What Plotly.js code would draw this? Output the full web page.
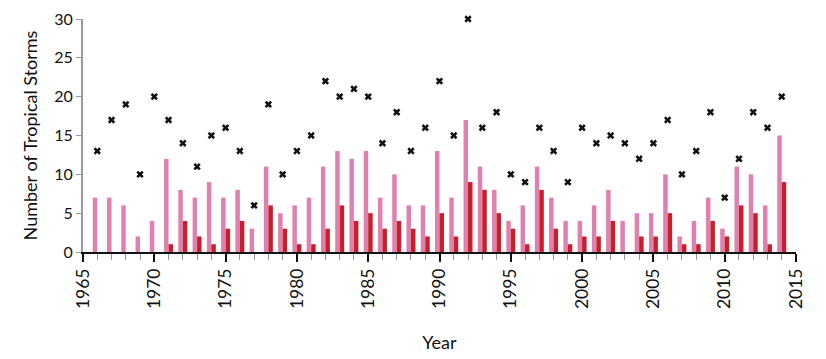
<!DOCTYPE html>
<html>
<head>
<meta charset="utf-8">
<script src="https://cdn.plot.ly/plotly-3.0.1.min.js"></script>
<style>html,body{margin:0;padding:0;background:#fff;}#chart{width:826px;height:359px;}</style>
</head>
<body>
<div id="chart"></div>
<script>
const years = [1966,1967,1968,1969,1970,1971,1972,1973,1974,1975,1976,1977,1978,1979,1980,1981,1982,1983,1984,1985,1986,1987,1988,1989,1990,1991,1992,1993,1994,1995,1996,1997,1998,1999,2000,2001,2002,2003,2004,2005,2006,2007,2008,2009,2010,2011,2012,2013,2014];
const pinkSeries = [7,7,6,2,4,12,8,7,9,7,8,3,11,5,6,7,11,13,12,13,7,10,6,6,13,7,17,11,8,4,6,11,7,4,4,6,8,4,5,5,10,2,4,7,3,11,10,6,15];
const redSeries = [0,0,0,0,0,1,4,2,1,3,4,0,6,3,1,1,3,6,4,5,3,4,3,2,5,2,9,8,5,3,1,8,3,1,2,2,4,0,2,2,5,1,1,4,2,6,5,1,9];
const totalStorms = [13,17,19,10,20,17,14,11,15,16,13,6,19,10,13,15,22,20,21,20,14,18,13,16,22,15,30,16,18,10,9,16,13,9,16,14,15,14,12,14,17,10,13,18,7,12,18,16,20];
const majorTicks = [1965,1970,1975,1980,1985,1990,1995,2000,2005,2010,2015];

const font = "Lato, 'Noto Sans', sans-serif";
const traces = [
  {type:'bar', x:years, y:pinkSeries, marker:{color:'#df80ae'}, hoverinfo:'x+y', showlegend:false},
  {type:'bar', x:years, y:redSeries, marker:{color:'#c8202a'}, hoverinfo:'x+y', showlegend:false},
  {type:'scatter', mode:'markers', x:years, y:totalStorms, cliponaxis:false,
   marker:{symbol:'x', size:6.5, color:'#111', line:{width:0}}, showlegend:false}
];
const layout = {
  width:826, height:359,
  margin:{l:83, r:30, t:19, b:107},
  paper_bgcolor:'#fff', plot_bgcolor:'#fff',
  barmode:'group', bargap:0.37, bargroupgap:0,
  showlegend:false,
  font:{family:font, color:'#111'},
  xaxis:{
    range:[1965,2015], tickvals:majorTicks, ticktext:majorTicks.map(String),
    tickangle:-90, ticks:'outside', ticklen:8, tickwidth:2, tickcolor:'#111',
    tickfont:{size:17.5, family:font, color:'#111'},
    showline:true, linecolor:'#111', linewidth:1.5,
    showgrid:false, zeroline:false,
    minor:{tick0:1965, dtick:1, ticks:'outside', ticklen:6, tickwidth:1, tickcolor:'#999', showgrid:false},
    title:{text:'Year', font:{size:18, family:font, color:'#111'}, standoff:28}
  },
  yaxis:{
    range:[0,30], dtick:5, ticks:'outside', ticklen:5, tickwidth:1, tickcolor:'#999',
    tickfont:{size:16, family:font, color:'#111'},
    showline:true, linecolor:'#999', linewidth:2,
    showgrid:false, zeroline:false,
    title:{text:'Number of Tropical Storms', font:{size:18, family:font, color:'#111'}, standoff:12}
  }
};
Plotly.newPlot('chart', traces, layout, {displayModeBar:false, staticPlot:true});
</script>
</body>
</html>
